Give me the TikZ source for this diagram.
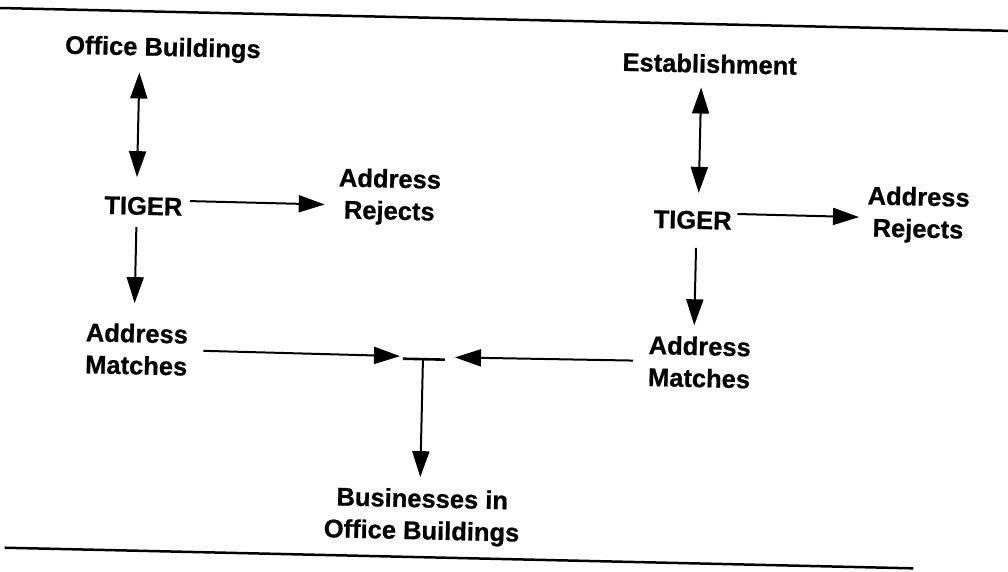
\documentclass[tikz,border=0pt]{standalone}
\usepackage{fontspec}
\setmainfont{Liberation Sans}[BoldFeatures={FakeBold=0.8}]
\usepackage{tikz}
\usetikzlibrary{arrows.meta,positioning}

\begin{document}
\begin{tikzpicture}[x=1pt,y=-1pt,>={Triangle[length=26pt,width=17pt]},
    file/.style={anchor=north,inner sep=0pt,align=center,
      font=\bfseries\fontsize{25.5}{32}\selectfont},
    link/.style={line width=2pt},
    rule/.style={line width=2.5pt}]
  \useasboundingbox (0,0) rectangle (1008,571);
  \begin{scope}[rotate=-1.3,transform shape]
    \draw[rule] (0,8) -- (1012,8);
    \draw[rule] (17,547.5) -- (926,547.5);

    % left match
    \node[file] (ob)   at (164,33.5)  {Office Buildings};
    \node[file] (tigL) at (148,193.5) {TIGER};
    \node[file] (rejL) at (394,160)   {Address\\Rejects};
    \node[file] (matL) at (144.5,320.5) {Address\\Matches};

    % right match
    \node[file] (est)  at (711,38)    {Establishment};
    \node[file] (tigR) at (697.5,195) {TIGER};
    \node[file] (rejR) at (923,166)   {Address\\Rejects};
    \node[file] (matR) at (707.5,320.5) {Address\\Matches};

    \node[file] (busi) at (433.5,479) {Businesses in\\Office Buildings};

    \coordinate (jl) at (408,347);
    \coordinate (jr) at (463,347);
    \coordinate (jc) at (431,349.5);
    \coordinate (barl) at (411,349.5);
    \coordinate (barr) at (453,349.5);

    \draw[<->,link,shorten <=11.5pt,shorten >=19.5pt] ([xshift=-23pt]ob.south) -- ([xshift=-7pt]tigL.north);
    \draw[->,link,shorten <=7.5pt,shorten >=13.5pt] ([yshift=6pt]tigL.east) -- ([yshift=-9pt]rejL.west);
    \draw[->,link,shorten <=12pt,shorten >=20.5pt] ([xshift=-6.5pt]tigL.south) -- ([xshift=-3pt]matL.north);
    \draw[->,link,shorten <=15.5pt] (matL.east) -- (jl);

    \draw[<->,link,shorten <=14.5pt,shorten >=18pt] ([xshift=-8pt]est.south) -- ([xshift=5.5pt]tigR.north);
    \draw[->,link,shorten <=5.5pt,shorten >=8pt] ([yshift=7pt]tigR.east) -- ([yshift=-3.5pt]rejR.west);
    \draw[->,link,shorten <=18.5pt,shorten >=11pt] ([xshift=4pt]tigR.south) -- ([xshift=-6pt]matR.north);
    \draw[->,link,shorten <=15pt] (matR.west) -- (jr);

    \draw[line width=2.6pt] (barl) -- (barr);
    \draw[->,link,shorten >=11.5pt] (jc) -- ([xshift=-2.5pt]busi.north);
  \end{scope}
\end{tikzpicture}
\end{document}
